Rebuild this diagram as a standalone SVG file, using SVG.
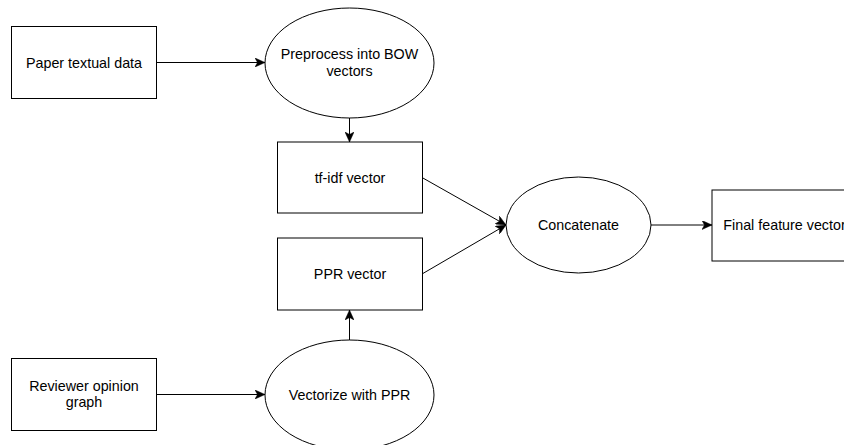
<svg xmlns="http://www.w3.org/2000/svg" width="844" height="445" viewBox="0 0 844 445">
<style>
.shape{fill:#fff;stroke:#000;stroke-width:1}
.lbl{font-family:"Liberation Sans",Arial,Helvetica,sans-serif;font-size:14.3px;fill:#000;text-anchor:middle}
.edge{fill:none;stroke:#000;stroke-width:1;marker-end:url(#arr)}
</style>
<defs>
<marker id="arr" viewBox="0 0 10 9" refX="10" refY="4.5" markerWidth="10" markerHeight="9" markerUnits="userSpaceOnUse" orient="auto">
<path d="M0,0 L10,4.5 L0,9 L2.5,4.5 Z" fill="#000" stroke="#000" stroke-width="0.5"/>
</marker>
</defs>
<rect width="844" height="445" fill="#fff"/>
<g id="connectors">
<line class="edge" x1="157" y1="62.5" x2="265" y2="62.5"/>
<line class="edge" x1="349.5" y1="118" x2="349.5" y2="142"/>
<line class="edge" x1="422" y1="177.5" x2="506" y2="225"/>
<line class="edge" x1="422" y1="274" x2="506" y2="225"/>
<line class="edge" x1="651" y1="225" x2="712" y2="225"/>
<line class="edge" x1="157" y1="394.5" x2="265" y2="394.5"/>
<line class="edge" x1="349.5" y1="340" x2="349.5" y2="310"/>
</g>
<g id="paper">
<rect class="shape" x="11.5" y="26.5" width="145" height="72"/>
<text class="lbl" x="84" y="67.5">Paper textual data</text>
</g>
<g id="preprocess">
<ellipse class="shape" cx="349.5" cy="63" rx="84.5" ry="55"/>
<text class="lbl" x="349.5" y="58.5">Preprocess into BOW</text>
<text class="lbl" x="349.5" y="75.5">vectors</text>
</g>
<g id="tfidf">
<rect class="shape" x="277.5" y="142" width="145" height="71"/>
<text class="lbl" x="350" y="182.5">tf-idf vector</text>
</g>
<g id="ppr">
<rect class="shape" x="277.5" y="238" width="145" height="72"/>
<text class="lbl" x="350" y="279">PPR vector</text>
</g>
<g id="concatenate">
<ellipse class="shape" cx="578.5" cy="225" rx="72.5" ry="48"/>
<text class="lbl" x="578.5" y="230">Concatenate</text>
</g>
<g id="final">
<rect class="shape" x="712" y="190" width="145" height="71"/>
<text class="lbl" x="784.5" y="230">Final feature vector</text>
</g>
<g id="reviewer">
<rect class="shape" x="11.5" y="358.5" width="145" height="72"/>
<text class="lbl" x="84" y="390.5">Reviewer opinion</text>
<text class="lbl" x="84" y="407">graph</text>
</g>
<g id="vectorize">
<ellipse class="shape" cx="349.5" cy="395" rx="84.5" ry="55"/>
<text class="lbl" x="349.5" y="400">Vectorize with PPR</text>
</g>
</svg>
